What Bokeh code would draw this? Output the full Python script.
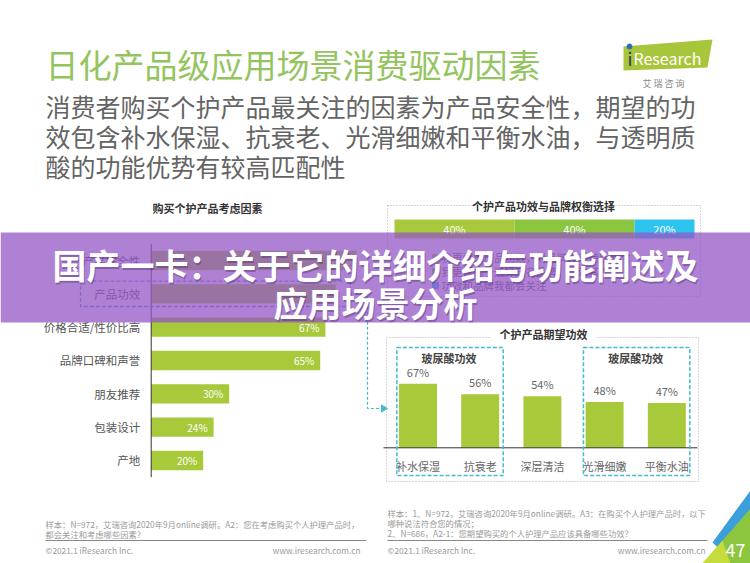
from math import pi
from bokeh.plotting import figure
from bokeh.models import Range1d
from bokeh.core.properties import value
from bokeh.embed import file_html
from bokeh.resources import INLINE

FONT = value("Noto Sans CJK SC")

# ---------------- data ----------------
factors = ["产品安全性", "产品功效", "价格合适/性价比高", "品牌口碑和声誉", "朋友推荐", "包装设计", "产地"]
factor_pct = [79, 71, 67, 65, 30, 24, 20]

tradeoff_labels = ["我更看重产品功效，对品牌没有特别要求", "我更倾向于选择知名品牌，功效其次", "功效和品牌我都会关注"]
tradeoff_pct = [40, 40, 20]
tradeoff_colors = ["#a9c93c", "#8cc540", "#2cc3ef"]

effects = ["补水保湿", "抗衰老", "深层清洁", "光滑细嫩", "平衡水油"]
effect_pct = [67, 56, 54, 48, 47]

GREEN = "#a7c93a"
CYAN = "#45b9cf"
W, H = 750, 563

p = figure(width=W, height=H, x_range=Range1d(0, W), y_range=Range1d(H, 0),
           output_backend="svg", toolbar_location=None, min_border=0)
p.axis.visible = False
p.grid.visible = False
p.outline_line_color = None
p.background_fill_color = "white"
p.border_fill_color = "white"

def txt(x, y, s, size, color="#555555", align="left", bold=False, baseline="middle", **kw):
    p.text(x=[x], y=[y], text=[s], text_font=FONT, text_font_size=f"{size}px",
           text_color=color, text_align=align, text_baseline=baseline,
           text_font_style="bold" if bold else "normal", **kw)

# ---------------- header ----------------
txt(45, 63, "日化产品级应用场景消费驱动因素", 33, color="#93c460")
sub = ["消费者购买个护产品最关注的因素为产品安全性，期望的功",
       "效包含补水保湿、抗衰老、光滑细嫩和平衡水油，与透明质",
       "酸的功能优势有较高匹配性"]
for i, s in enumerate(sub):
    txt(45, 105 + 30 * i, s, 25, color="#646464")

# logo
p.patch(x=[623, 712, 707, 623], y=[46, 39, 67, 70], fill_color="#a8c63b", line_color=None)
txt(627, 57, "i", 18, color="#2b3a55")
p.scatter(x=[629], y=[46], size=5, color="#2a6fb5")
txt(633, 57, "Research", 16, color="white")
txt(666, 83, "艾  瑞  咨  询", 9, color="#888888", align="center")

# ---------------- left chart ----------------
LX0, LK = 150.7, 2.6
LY0, LS = 260.0, 33.33
p.extra_x_ranges["lx"] = Range1d(-LX0 / LK, (W - LX0) / LK)
p.extra_y_ranges["ly"] = Range1d((H - LY0) / LS, -LY0 / LS)
idx = list(range(len(factors)))

txt(207, 207, "购买个护产品考虑因素", 11, color="#333333", align="center", bold=True)
p.hbar(y=idx, left=0, right=factor_pct, height=0.58, fill_color=GREEN, line_color=None,
       x_range_name="lx", y_range_name="ly")
p.text(x=factor_pct, y=idx, text=[f"{v}%" for v in factor_pct], x_offset=-6,
       text_font=FONT, text_font_size="10px", text_color="white", text_align="right",
       text_baseline="middle", x_range_name="lx", y_range_name="ly")
p.text(x=[0] * len(factors), y=idx, text=factors, x_offset=-11, text_font=FONT,
       text_font_size="11.5px", text_color="#555555", text_align="right",
       text_baseline="middle", x_range_name="lx", y_range_name="ly")
p.segment(x0=[0], x1=[0], y0=[-0.5], y1=[len(factors) - 0.5], line_color="#333333",
          line_width=1, x_range_name="lx", y_range_name="ly")
# dashed highlight box around 产品功效
p.quad(left=[80], right=[350], top=[1 - 0.38], bottom=[1 + 0.38], fill_color=None,
       line_color="#5a8fd8", line_dash="4 2", line_width=1.3, y_range_name="ly")
# connector arrow
p.line(x=[350, 367, 367, 382], y=[293.3, 293.3, 408, 408], line_color=CYAN,
       line_dash="3 2", line_width=1.2)
p.scatter(x=[383], y=[408], marker="triangle", size=7, angle=-pi / 2, color=CYAN)

# footnotes left
txt(45, 523, "样本：N=972，艾瑞咨询2020年9月online调研。A2：您在考虑购买个人护理产品时，", 8.3, color="#9a9a9a")
txt(45, 533, "都会关注和考虑哪些因素？", 8.3, color="#9a9a9a")
p.segment(x0=[45], x1=[366], y0=[540], y1=[540], line_color="#888888", line_width=1)
txt(45, 549, "©2021.1 iResearch Inc.", 8.3, color="#9a9a9a")
txt(360, 549, "www.iresearch.com.cn", 8.3, color="#9a9a9a", align="right")

# ---------------- right top: stacked bar ----------------
p.quad(left=[387], right=[700], top=[205], bottom=[296], fill_color=None,
       line_color="#aaaaaa", line_dash="1 2", line_width=1)
p.quad(left=[475], right=[612], top=[198], bottom=[212], fill_color="white", line_color=None)
txt(543, 205, "个护产品功效与品牌权衡选择", 11, color="#333333", align="center", bold=True)

SX0, SK = 394.0, 3.0
p.extra_x_ranges["sx"] = Range1d(-SX0 / SK, (W - SX0) / SK)
lefts, rights, acc = [], [], 0
for v in tradeoff_pct:
    lefts.append(acc)
    acc += v
    rights.append(acc)
p.hbar(y=[228.5] * 3, left=lefts, right=rights, height=19, fill_color=tradeoff_colors,
       line_color=None, x_range_name="sx")
p.text(x=[(a + b) / 2 for a, b in zip(lefts, rights)], y=[228.5] * 3,
       text=[f"{v}%" for v in tradeoff_pct], text_font=FONT, text_font_size="11px",
       text_color="white", text_align="center", text_baseline="middle", x_range_name="sx")
for i, (lab, c) in enumerate(zip(tradeoff_labels, tradeoff_colors)):
    yy = 257 + 14 * i
    p.scatter(x=[435], y=[yy], marker="square", size=6, color=c)
    txt(441, yy, lab, 10.5, color="#666666")

# ---------------- right bottom: column chart ----------------
p.quad(left=[386], right=[698], top=[337], bottom=[481], fill_color=None,
       line_color="#aaaaaa", line_dash="1 2", line_width=1)
p.quad(left=[490], right=[596], top=[326], bottom=[341], fill_color="white", line_color=None)
txt(543, 333, "个护产品期望功效", 11, color="#333333", align="center", bold=True)

BX0, BS = 417.5, 62.2
BY0, BK = 447.3, 0.955
p.extra_x_ranges["bx"] = Range1d(-BX0 / BS, (W - BX0) / BS)
p.extra_y_ranges["by"] = Range1d(-(H - BY0) / BK, BY0 / BK)
eidx = list(range(len(effects)))
p.vbar(x=eidx, bottom=0, top=effect_pct, width=0.61, fill_color=GREEN, line_color=None,
       x_range_name="bx", y_range_name="by")
p.text(x=eidx, y=effect_pct, text=[f"{v}%" for v in effect_pct], y_offset=-12,
       text_font=FONT, text_font_size="11px", text_color="#666666", text_align="center",
       text_baseline="middle", x_range_name="bx", y_range_name="by")
p.text(x=eidx, y=[0] * len(effects), text=effects, y_offset=18, text_font=FONT,
       text_font_size="11px", text_color="#666666", text_align="center",
       text_baseline="middle", x_range_name="bx", y_range_name="by")
p.segment(x0=[383], x1=[697], y0=[0], y1=[0], line_color="#333333", line_width=1,
          y_range_name="by")
# hyaluronic boxes
for a, b in [(0, 1), (3, 4)]:
    p.quad(left=[a - 0.34], right=[b + 0.37], top=[347], bottom=[475], fill_color=None,
           line_color=CYAN, line_dash="4 2", line_width=1.5, x_range_name="bx")
    p.text(x=[(a + b) / 2], y=[357], text=["玻尿酸功效"], text_font=FONT,
           text_font_size="11px", text_color="#444444", text_align="center",
           text_baseline="middle", text_font_style="bold", x_range_name="bx")

# footnotes right
txt(387, 512, "样本：1、N=972，艾瑞咨询2020年9月online调研。A3：在购买个人护理产品时，以下", 8.3, color="#9a9a9a")
txt(387, 522, "哪种说法符合您的情况；", 8.3, color="#9a9a9a")
txt(387, 532, "2、N=686，A2-1：您期望购买的个人护理产品应该具备哪些功效？", 8.3, color="#9a9a9a")
p.segment(x0=[387], x1=[707], y0=[540], y1=[540], line_color="#888888", line_width=1)
txt(387, 549, "©2021.1 iResearch Inc.", 8.3, color="#9a9a9a")
txt(705, 549, "www.iresearch.com.cn", 8.3, color="#9a9a9a", align="right")

# page corner
p.patch(x=[712, 750, 750, 727], y=[542, 490, 524, 556], fill_color="#3a9fdc", line_color=None)
p.patch(x=[702, 750, 750], y=[563, 508, 563], fill_color="#8cc63f", line_color=None)
p.patch(x=[702, 722, 730], y=[563, 540, 563], fill_color="#c5dc3c", line_color=None)
txt(735, 549, "47", 18, color="white", align="center")

# ---------------- overlay banner ----------------
p.quad(left=[0], right=[W], top=[232], bottom=[322], fill_color="#9457c6", fill_alpha=0.75,
       line_color=None)
for (s, y) in [("国产一卡：关于它的详细介绍与功能阐述及", 264), ("应用场景分析", 302)]:
    p.text(x=[376], y=[y + 1.5], text=[s], text_font=FONT, text_font_size="34px",
           text_color="#3a1f55", text_alpha=0.35, text_align="center", text_baseline="middle",
           text_font_style="bold")
    txt(375, y, s, 34, color="white", align="center", bold=True)

open("out.html", "w").write(file_html(p, INLINE))
